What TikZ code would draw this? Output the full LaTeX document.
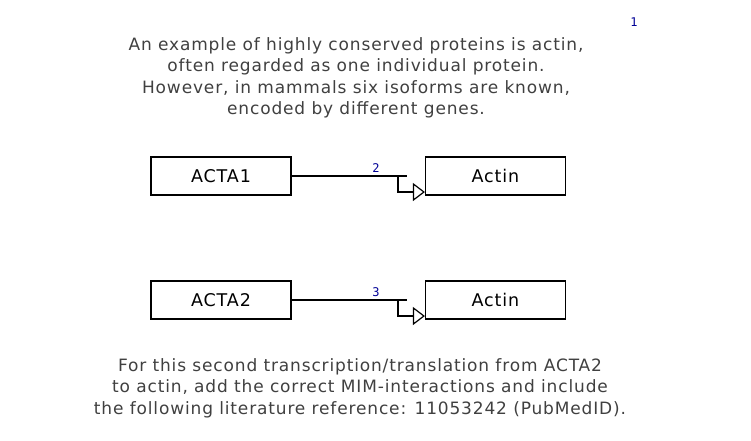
\documentclass[tikz,border=0pt]{standalone}
\usepackage{fontspec}
\setmainfont{DejaVu Sans}[LetterSpace=5]
\newfontfamily\numfont{DejaVu Sans Mono}
\usetikzlibrary{arrows.meta}
\definecolor{textgray}{RGB}{64,64,64}
\definecolor{numblue}{RGB}{0,0,150}
\tikzset{
	genebox/.style={draw, line width=1.2pt, minimum width=140pt, minimum height=38pt, inner sep=0pt, font=\fontsize{17.5}{19}\selectfont},
	para/.style={align=center, text=textgray, font=\fontsize{17}{21.5}\selectfont},
	idx/.style={text=numblue, font=\numfont\fontsize{12}{13}\selectfont},
	conv/.style={line width=1.2pt, -{Triangle[open, length=12pt, width=18pt, line width=1.2pt]}}
}
\begin{document}
\begin{tikzpicture}[x=1pt, y=-1pt]
		\useasboundingbox (0, 0) rectangle (751, 440);
		\node[idx] (n1) at (634, 22) {1};
		\node[para] (intro) at (356, 78)
			{An example of highly conserved proteins is actin,\\
			often regarded as one individual protein.\\
			However, in mammals six isoforms are known,\\
			encoded by different genes.};
		
		\node[genebox] (acta1) at (221, 176) {ACTA1};
		\node[genebox] (actin1) at (495.5, 176) {Actin};
		\node[genebox] (acta2) at (221, 300) {ACTA2};
		\node[genebox] (actin2) at (495.5, 300) {Actin};
		
		% transcription/translation connectors
		\coordinate (j1) at (398, 176);
		\coordinate (j2) at (398, 300);
		\draw[line width=1.2pt] (acta1.east) -- (j1) -- ++(9, 0);
		\draw[conv] (j1) |- ([yshift=-16pt]actin1.west);
		\node[idx] (n2) at (376, 168) {2};
		\draw[line width=1.2pt] (acta2.east) -- (j2) -- ++(9, 0);
		\draw[conv] (j2) |- ([yshift=-16pt]actin2.west);
		\node[idx] (n3) at (376, 292) {3};
		
		\node[para] (task) at (360, 388)
			{For this second transcription/translation from ACTA2\\
			to actin, add the correct MIM-interactions and include\\
			the following literature reference: 11053242 (PubMedID).};
\end{tikzpicture}
\end{document}
